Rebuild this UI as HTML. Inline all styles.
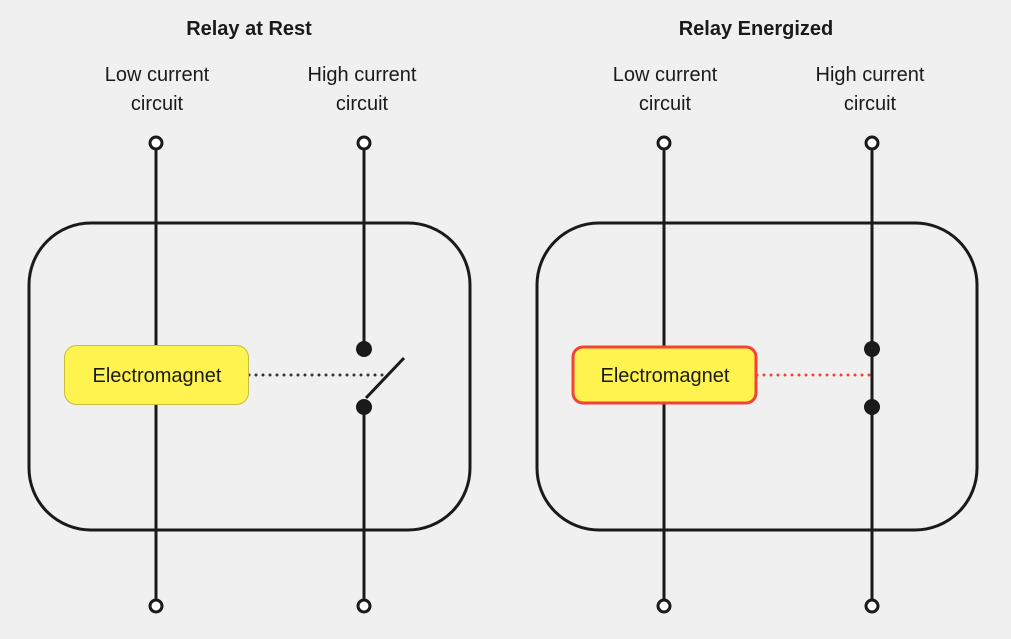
<!DOCTYPE html>
<html><head><style>body{margin:0;background:#f0f0f0}svg{display:block}text{font-family:"Liberation Sans",sans-serif;fill:#1a1a1a}</style></head><body>
<svg width="1011" height="639" viewBox="0 0 1011 639">
<rect width="1011" height="639" fill="#f0f0f0"/>
<g font-size="20" text-anchor="middle">
<text x="249" y="35" font-weight="bold">Relay at Rest</text>
<text x="756" y="35" font-weight="bold">Relay Energized</text>
<text x="157" y="81">Low current</text><text x="157" y="110">circuit</text>
<text x="362" y="81">High current</text><text x="362" y="110">circuit</text>
<text x="665" y="81">Low current</text><text x="665" y="110">circuit</text>
<text x="870" y="81">High current</text><text x="870" y="110">circuit</text>
</g>
<g fill="none" stroke="#1a1a1a" stroke-width="3">
<rect x="29" y="223" width="441" height="307" rx="62"/>
<rect x="537" y="223" width="440" height="307" rx="62"/>
<line x1="156" y1="149" x2="156" y2="600"/>
<line x1="364" y1="149" x2="364" y2="348"/>
<line x1="364" y1="406" x2="364" y2="600"/>
<line x1="366" y1="398" x2="404" y2="358"/>
<line x1="664" y1="149" x2="664" y2="600"/>
<line x1="872" y1="149" x2="872" y2="600"/>
</g>
<g fill="#fff" stroke="#1a1a1a" stroke-width="3">
<circle cx="156" cy="143" r="6"/><circle cx="364" cy="143" r="6"/>
<circle cx="156" cy="606" r="6"/><circle cx="364" cy="606" r="6"/>
<circle cx="664" cy="143" r="6"/><circle cx="872" cy="143" r="6"/>
<circle cx="664" cy="606" r="6"/><circle cx="872" cy="606" r="6"/>
</g>
<g fill="#1a1a1a">
<circle cx="364" cy="349" r="8"/><circle cx="364" cy="407" r="8"/>
<circle cx="872" cy="349" r="8"/><circle cx="872" cy="407" r="8"/>
</g>
<line x1="249" y1="375" x2="384" y2="375" stroke="#333" stroke-width="3" stroke-dasharray="0 7" stroke-linecap="round"/>
<line x1="757" y1="375" x2="870" y2="375" stroke="#f44336" stroke-width="3" stroke-dasharray="0 7" stroke-linecap="round"/>
<rect x="64.5" y="345.5" width="184" height="59" rx="12" fill="#fff350" stroke="#c8bb40" stroke-width="1"/>
<rect x="573" y="347" width="183" height="56" rx="10" fill="#fff350" stroke="#f44336" stroke-width="3"/>
<g font-size="20" text-anchor="middle">
<text x="157" y="382">Electromagnet</text>
<text x="665" y="382">Electromagnet</text>
</g>
</svg>
</body></html>
